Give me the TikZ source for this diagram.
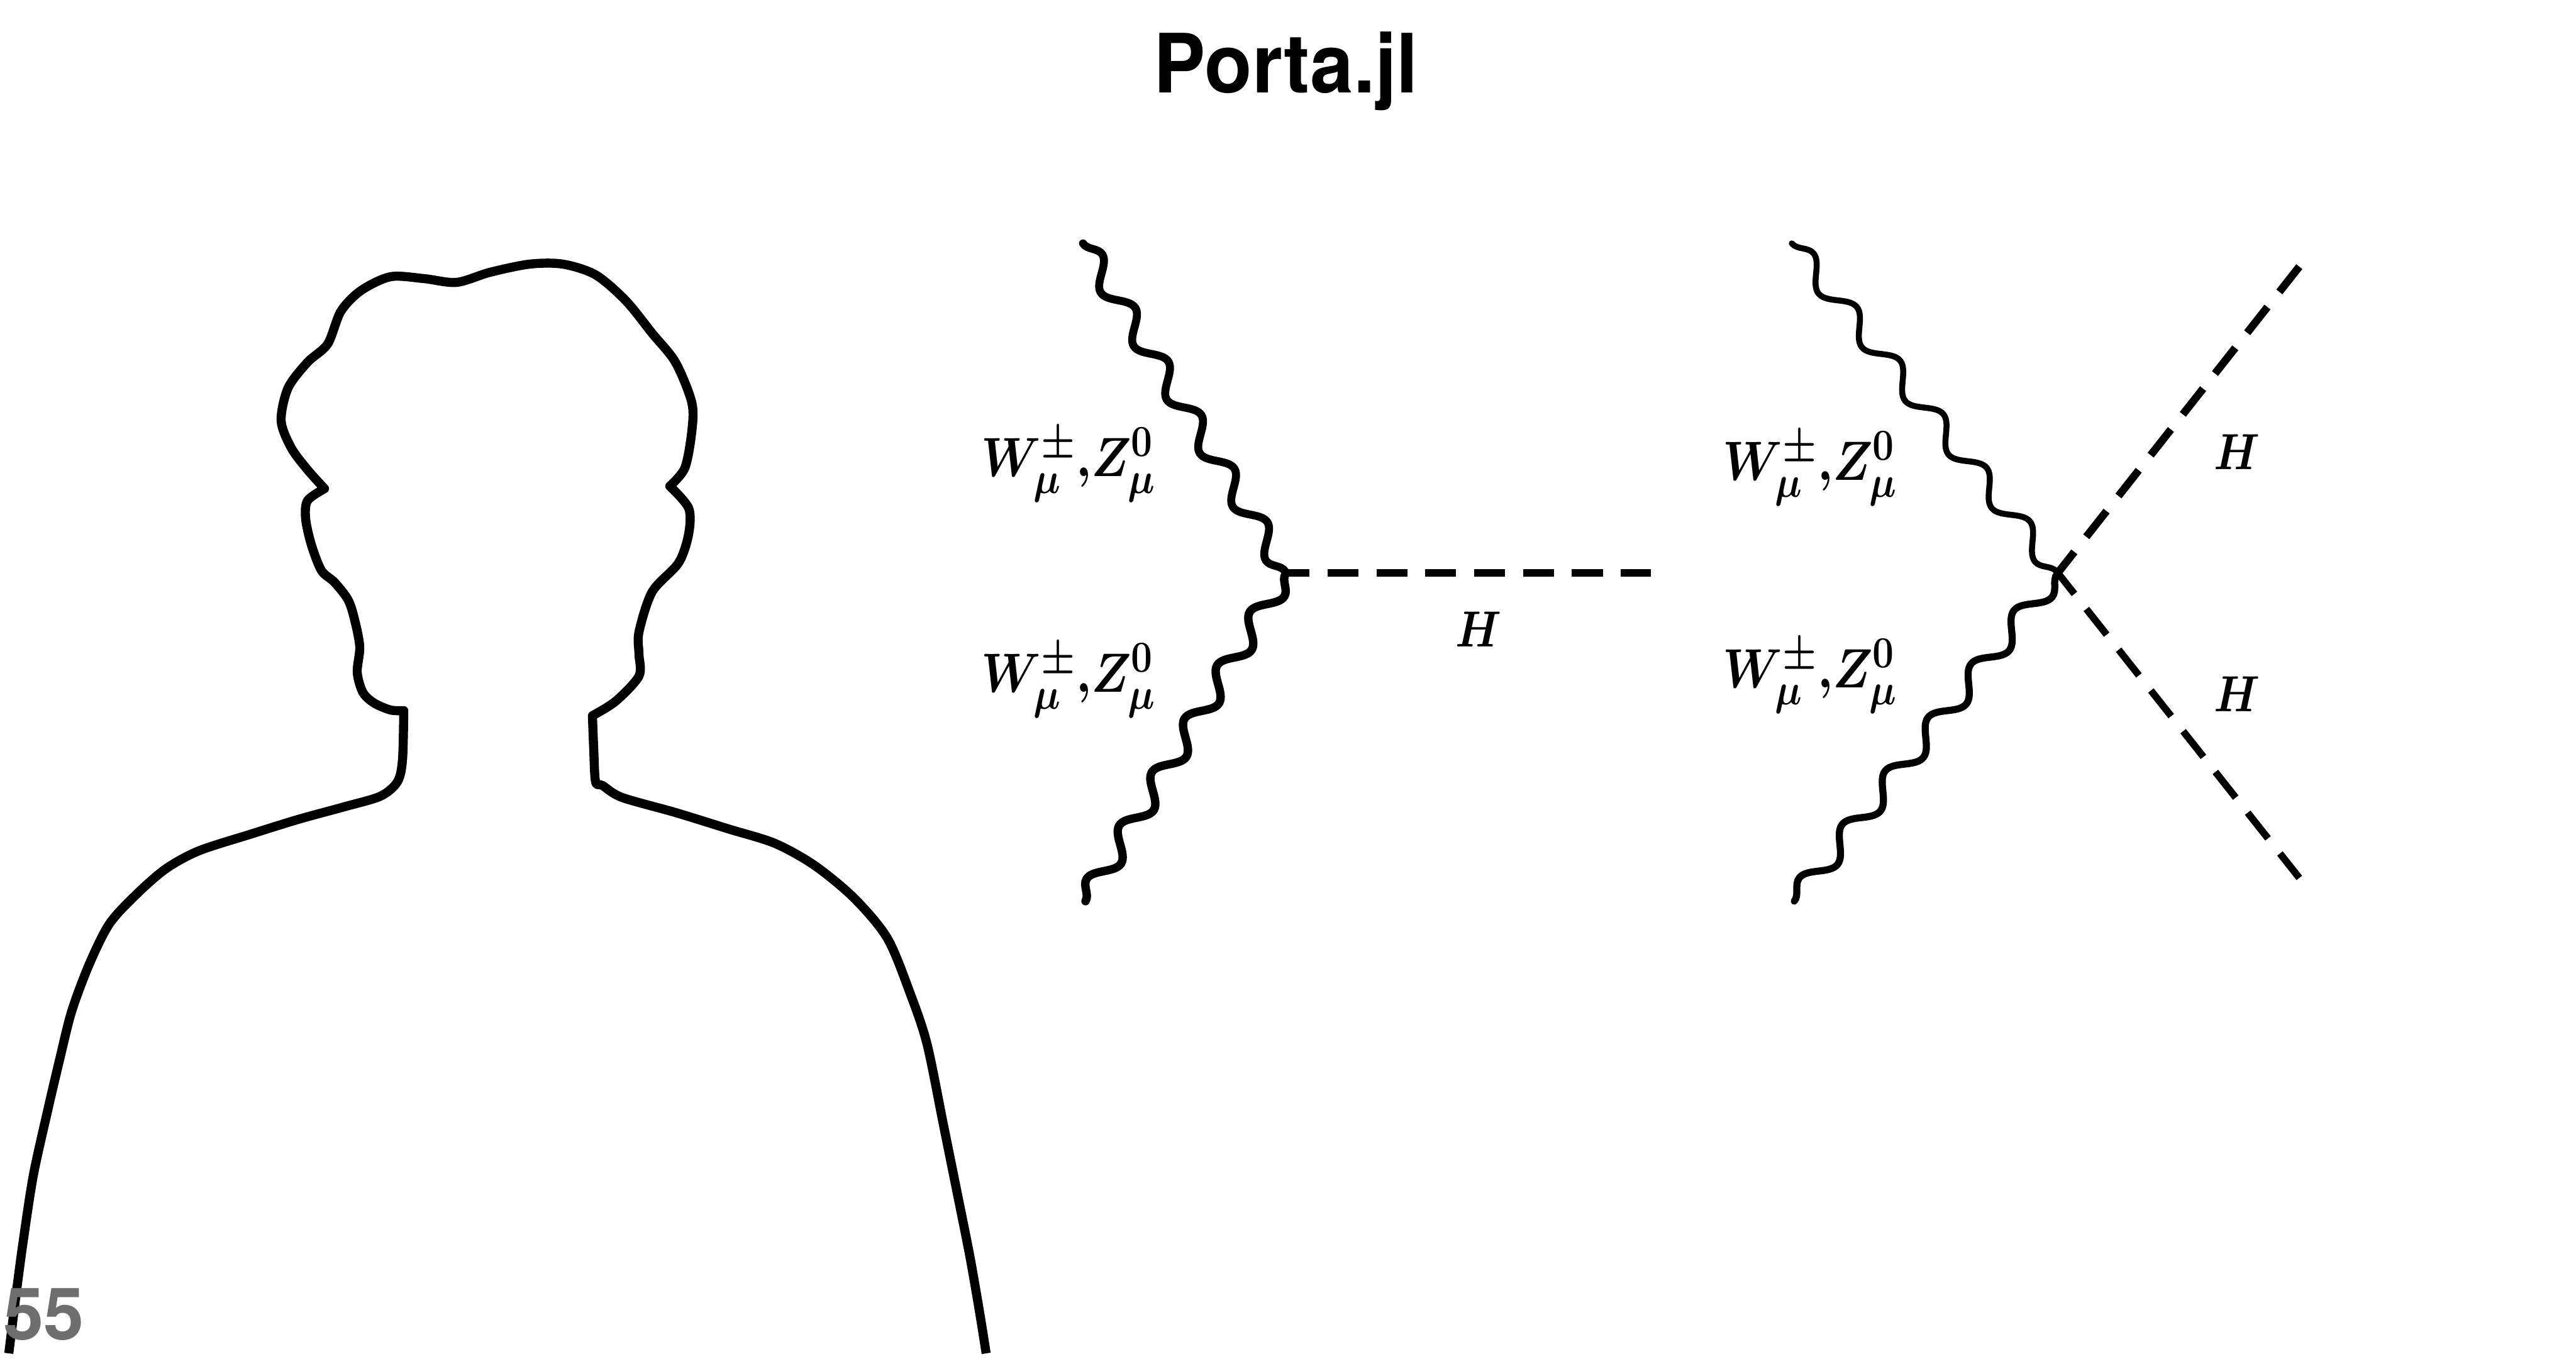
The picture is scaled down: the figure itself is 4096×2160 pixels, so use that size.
\RequirePackage{fix-cm}
\documentclass[tikz,border=0pt]{standalone}
\usepackage{graphicx}
\usepackage{fontspec}
\setmainfont{TeX Gyre Heros}
\DeclareMathSizes{25}{25}{20}{16}
\DeclareMathSizes{23}{23}{17}{13}
\newcommand{\wzmass}{\scalebox{0.86}[1]{\boldmath$W^\pm_\mu{,}Z^0_\mu$}}
\newcommand{\higgsname}{\scalebox{0.85}[1]{\boldmath$H$}}
\usetikzlibrary{decorations.pathmorphing}
\tikzset{
    bodyline/.style = {line width=4.1pt, line join=round, line cap=butt},
    wave/.style = {line cap=round, decorate,
        decoration={snake, amplitude=1.7mm, segment length=#1}},
    dashlinea/.style = {line width=3.6pt, dash pattern=on 14pt off 8.1pt, dash phase=3.4pt},
    dashlineb/.style = {dash pattern=on 14.8pt off 8.7pt, dash phase=2.7pt},
    masslabel/.style = {anchor=base west, inner sep=0pt, font=\fontsize{25}{30}\selectfont},
    higgslabel/.style = {anchor=base west, inner sep=0pt, font=\fontsize{23}{28}\selectfont}
}
\begin{document}
\begin{tikzpicture}[x=0.01cm, y=-0.01cm]
    \useasboundingbox (0,0) rectangle (4096,2160);

    % outline of the person
    \draw[bodyline] plot[smooth, tension=0.5] coordinates {
            (14,2152) (26,2055) (37,1973) (53,1869) (76,1765) (95,1684) (114,1608)
            (142,1533) (174,1469) (216,1423) (263,1382) (316,1353) (400,1326)
            (474,1303) (547,1283) (605,1266) (632,1243) (640,1208) (642,1130)}
        -- plot[smooth, tension=0.5] coordinates {
            (642,1130) (621,1129) (595,1118) (577,1101) (568,1069) (572,1028)
            (563,982) (553,953) (532,926) (511,907) (495,866) (486,825) (489,796) (516,777)}
        -- plot[smooth, tension=0.5] coordinates {
            (516,777) (489,747) (463,712) (447,669) (458,617) (489,576) (521,547)
            (542,495) (574,462) (621,440) (674,443) (726,449) (779,433) (842,420)
            (895,420) (947,437) (995,478) (1037,530) (1074,576) (1100,640) (1100,686)
            (1089,744) (1065,773)}
        -- plot[smooth, tension=0.5] coordinates {
            (1065,773) (1095,808) (1095,849) (1079,895) (1037,941) (1016,1005)
            (1016,1040) (1016,1075) (979,1115) (942,1138)}
        -- plot[smooth, tension=0.5] coordinates {
            (942,1138) (944,1190) (947,1243) (958,1249) (989,1268) (1074,1292) (1158,1318)
            (1232,1341) (1295,1376) (1358,1428) (1411,1492) (1447,1579) (1474,1660)
            (1500,1788) (1521,1892) (1542,1997) (1558,2089) (1568,2152)};

    \node[anchor=base, inner sep=0pt] (title) at (2045,147)
        {\scalebox{0.95}[1]{\fontsize{37}{44}\selectfont\bfseries Porta.jl}};
    \node[anchor=base west, inner sep=0pt, text=black!57] (pagenum) at (5,2130)
        {\fontsize{32.8}{40}\selectfont\bfseries 55};

    % first diagram
    \coordinate (vtxA) at (2045,911);
    \coordinate (wTopA) at (1722,387);
    \coordinate (wBotA) at (1726,1433);
    \coordinate (hEndA) at (2625,911);
    \draw[wave=10mm, line width=3.6pt] (wTopA) -- (vtxA);
    \draw[wave=9.95mm, line width=3.8pt] (wBotA) -- (vtxA);
    \draw[dashlinea] (vtxA) -- (hEndA);
    \node[masslabel] (wzTopA) at (1560,757) {\wzmass};
    \node[masslabel] (wzBotA) at (1560,1100) {\wzmass};
    \node[higgslabel] (higgsA) at (2314,1028) {\higgsname};

    % second diagram
    \coordinate (vtxB) at (3272,911);
    \coordinate (wTopB) at (2849,387);
    \coordinate (wBotB) at (2853,1433);
    \coordinate (hTopB) at (3656,424);
    \coordinate (hBotB) at (3656,1396);
    \draw[wave=10.95mm, line width=2.7pt] (wTopB) -- (vtxB);
    \draw[wave=10.9mm, line width=3.2pt] (wBotB) -- (vtxB);
    \draw[dashlineb, line width=3.5pt] (vtxB) -- (hTopB);
    \draw[dashlineb, line width=3.2pt] (vtxB) -- (hBotB);
    \node[masslabel] (wzTopB) at (2739,763) {\wzmass};
    \node[masslabel] (wzBotB) at (2739,1093) {\wzmass};
    \node[higgslabel] (higgsTopB) at (3520,746) {\higgsname};
    \node[higgslabel] (higgsBotB) at (3520,1131) {\higgsname};
\end{tikzpicture}
\end{document}
